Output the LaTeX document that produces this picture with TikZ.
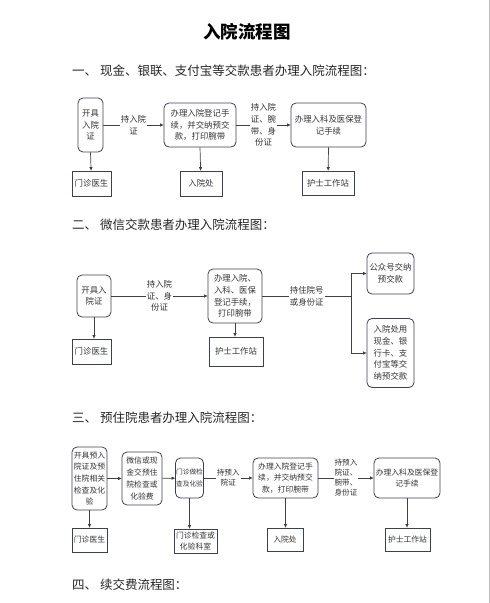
\documentclass[tikz,border=0pt]{standalone}
\usepackage{fontspec}
\setmainfont{Noto Sans CJK SC}
\usetikzlibrary{arrows.meta}
\definecolor{boxc}{HTML}{3C4152}
\definecolor{linec}{HTML}{404040}
\definecolor{txtc}{HTML}{333333}
\begin{document}
\begin{tikzpicture}[x=1pt,y=-1pt,
	rbox/.style={draw=boxc, line width=0.8pt, rounded corners=5pt, align=center, inner sep=0.5pt, text=txtc},
	sbox/.style={draw=boxc, line width=0.8pt, align=center, inner sep=0.5pt, text=txtc},
	lab/.style={fill=white, align=center, inner sep=1pt, text=txtc},
	arr/.style={draw=linec, line width=0.7pt, -{Triangle[length=3.5pt,width=3pt]}},
	con/.style={draw=linec, line width=0.7pt},
	head/.style={anchor=west, inner sep=0pt, font=\fontsize{12.5}{14}\selectfont, text=black!85},
	fa/.style={font=\fontsize{8.4}{11.7}\selectfont},
	fb/.style={font=\fontsize{7.8}{11.7}\selectfont},
	fc/.style={font=\fontsize{7.6}{10}\selectfont}]
	\useasboundingbox (0,0) rectangle (490,603);
	\draw[black!25, line width=1pt] (489,0) -- (489,603);

	% title and headings
	\node[font=\fontsize{17.5}{20}\selectfont\bfseries] (title) at (247,32) {入院流程图};
	\node[head] (h1) at (72,71) {一、 现金、银联、支付宝等交款患者办理入院流程图：};
	\node[head] (h2) at (72,225) {二、 微信交款患者办理入院流程图：};
	\node[head] (h3) at (72,418) {三、 预住院患者办理入院流程图：};
	\node[head] (h4) at (72,585) {四、 续交费流程图：};

	% part one
	\node[rbox, fa, minimum width=25, minimum height=54] (a1) at (90.5,125) {开具\\入院\\证};
	\node[rbox, fa, minimum width=72, minimum height=44] (a2) at (200,125) {办理入院登记手\\续，并交纳预交\\款，打印腕带};
	\node[rbox, fa, minimum width=75, minimum height=44] (a3) at (328.5,125) {办理入科及医保登\\记手续};
	\node[sbox, fa, minimum width=39, minimum height=25] (d1) at (91.5,183.5) {门诊医生};
	\node[sbox, fa, minimum width=42, minimum height=25] (d2) at (201,183.5) {入院处};
	\node[sbox, fa, minimum width=52, minimum height=24] (d3) at (328,183) {护士工作站};
	\draw[arr] (a1) -- node[lab, fa]{持入院\\证} (a2);
	\draw[arr] (a2) -- node[lab, fa]{持入院\\证、腕\\带、身\\份证} (a3);
	\draw[arr] (a1.south) -- (d1);
	\draw[arr] (a2.south) -- (d2);
	\draw[arr] (a3.south) -- (d3);

	% part two
	\node[rbox, fa, minimum width=34, minimum height=42] (b1) at (94,296) {开具入\\院证};
	\node[rbox, fa, minimum width=54, minimum height=54] (b2) at (235,296) {办理入院、\\入科、医保\\登记手续，\\打印腕带};
	\node[rbox, fa, minimum width=47, minimum height=41] (b3) at (390.5,273.5) {公众号交纳\\预交款};
	\node[rbox, fa, minimum width=47, minimum height=69] (b4) at (390.5,353) {入院处用\\现金、银\\行卡、支\\付宝等交\\纳预交款};
	\node[sbox, fa, minimum width=39, minimum height=25] (e1) at (91.5,351.5) {门诊医生};
	\node[sbox, fa, minimum width=54, minimum height=29] (e2) at (236,351.5) {护士工作站};
	\coordinate (br) at (351,296);
	\draw[arr] (b1) -- node[lab, fa]{持入院\\证、身\\份证} (b2);
	\draw[con] (b2) -- node[lab, fa]{持住院号\\或身份证} (br);
	\draw[arr] (br) |- (b3);
	\draw[arr] (br) |- (b4);
	\draw[arr] (b1.south) -- (b1.south |- e1.north);
	\draw[arr] (b2.south) -- (b2.south |- e2.north);

	% part three
	\node[rbox, fb, minimum width=35, minimum height=63] (c1) at (89.5,478.5) {开具预入\\院证及预\\住院相关\\检查及化\\验};
	\node[rbox, fb, minimum width=40, minimum height=53] (c2) at (142,478.5) {微信或现\\金交预住\\院检查或\\化验费};
	\node[rbox, font=\fontsize{6.7}{11.7}\selectfont, minimum width=28, minimum height=40] (c3) at (189.5,478) {门诊做检\\查及化验};
	\node[rbox, fb, minimum width=65, minimum height=40] (c4) at (285.5,478) {办理入院登记手\\续，并交纳预交\\款，打印腕带};
	\node[rbox, fb, minimum width=66, minimum height=40] (c5) at (407,478) {办理入科及医保登\\记手续};
	\node[sbox, fb, minimum width=35, minimum height=24] (f1) at (89.5,540) {门诊医生};
	\node[sbox, fb, minimum width=43, minimum height=24] (f2) at (195.5,541) {门诊检查或\\化验科室};
	\node[sbox, fb, minimum width=36, minimum height=23] (f3) at (285,539.5) {入院处};
	\node[sbox, fb, minimum width=45, minimum height=23] (f4) at (407.5,539.5) {护士工作站};
	\draw[arr] (c1) -- (c2);
	\draw[arr] (c2) -- (c3);
	\draw[arr] (c3) -- node[lab, fc]{持预入\\院证} (c4);
	\draw[arr] (c4) -- node[lab, fc]{持预入\\院证、\\腕带、\\身份证} (c5);
	\draw[arr] (c1.south) -- (c1.south |- f1.north);
	\draw[arr] (c3.south) -- (c3.south |- f2.north);
	\draw[arr] (c4.south) -- (c4.south |- f3.north);
	\draw[arr] (c5.south) -- (c5.south |- f4.north);
\end{tikzpicture}
\end{document}
